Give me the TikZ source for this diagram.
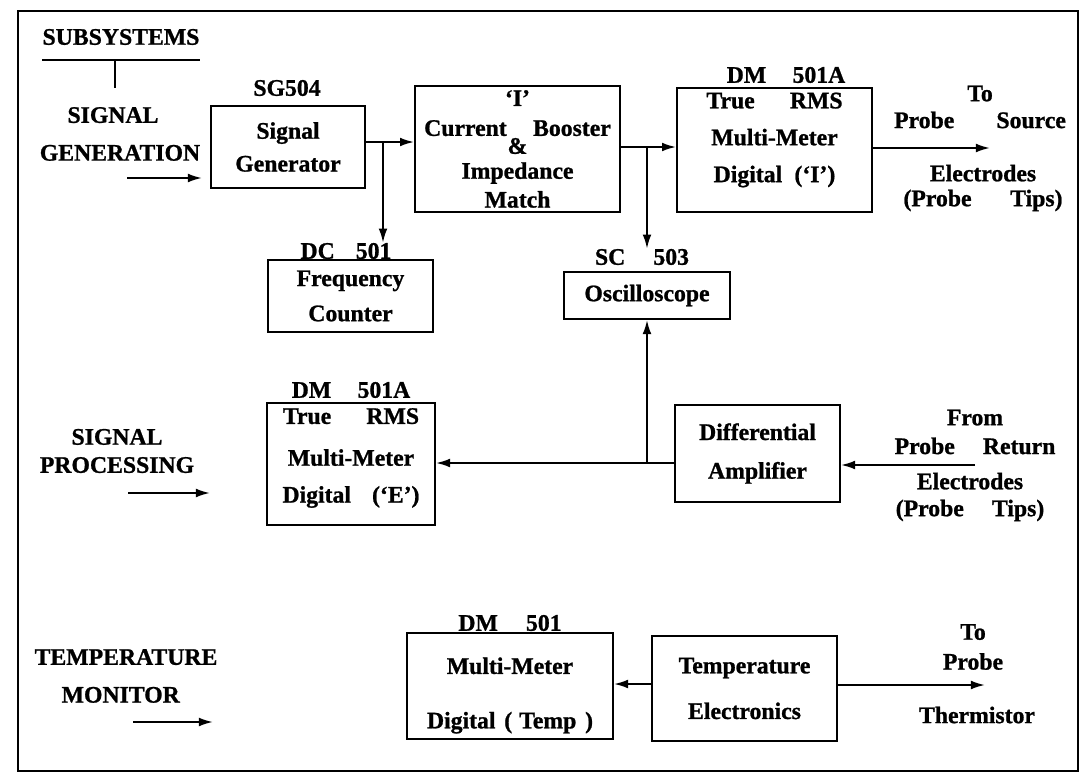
\documentclass[tikz,border=0pt]{standalone}
\usepackage{fontspec}
\setmainfont{Liberation Serif}[BoldFeatures={FakeBold=1}]
\usetikzlibrary{arrows.meta}
\begin{document}
\begin{tikzpicture}[x=0.02cm,y=-0.02cm,
  every node/.style={font=\bfseries\fontsize{13.5}{16}\selectfont,align=center,inner sep=0pt},
  blk/.style 2 args={draw,line width=1.1pt,minimum width=#1,minimum height=#2},
  wire/.style={line width=1.1pt},
  arr/.style={wire,-{Latex[length=8pt,width=5pt]}}]
\useasboundingbox (0,0) rectangle (1086,774);
\draw[line width=1pt] (18,11) rectangle (1078,771);
\node (subs) at (121,37) {SUBSYSTEMS};
\draw[line width=1.6pt] (42,60) -- (200,60);
\draw[wire] (115,60) -- (115,88);
\node (sgen) at (120,134) {SIGNAL\hspace*{8pt}\\[5.5pt]GENERATION};
\node (spro) at (117,451) {SIGNAL\\[0pt]PROCESSING};
\node (tmon) at (126,676) {TEMPERATURE\\[5.5pt]MONITOR\hspace*{6pt}};
\coordinate (g1) at (127,178); \coordinate (g2) at (202,178);
\coordinate (s1) at (128,493); \coordinate (s2) at (210,493);
\coordinate (t1) at (133,722); \coordinate (t2) at (213,722);
\draw[arr] (g1) -- (g2);
\draw[arr] (s1) -- (s2);
\draw[arr] (t1) -- (t2);
\node[blk={3.08cm}{1.64cm}] (sg) at (288,147) {Signal\\[2.7pt]Generator};
\node (sglbl) at (287,88) {SG504};
\node[blk={4.10cm}{2.52cm}] (cb) at (517.5,149) {`I'\\[1pt]Current\hspace{15pt}Booster\\[-5.8pt]\&\\[-1.8pt]Impedance\\[0.4pt]Match};
\node[blk={3.90cm}{2.48cm}] (dmi) at (774.5,150) {};
\node (dmitxt) at (774.5,140) {True\hspace{20pt}RMS\\[5pt]Multi-Meter\\[5pt]Digital\hspace{7pt}(`I')};
\node (dmilbl) at (786,75) {DM\hspace{15pt}501A};
\node[blk={3.30cm}{1.44cm}] (fc) at (350.5,296) {Frequency\\[4pt]Counter};
\node (fclbl) at (346,251) {DC\hspace{12pt}501};
\node[blk={3.32cm}{0.94cm}] (osc) at (647,295.5) {Oscilloscope};
\node (osclbl) at (642,257) {SC\hspace{16pt}503};
\node[blk={3.36cm}{2.44cm}] (dme) at (351,464) {};
\node (dmetxt) at (351,458) {True\hspace{20pt}RMS\\[7.8pt]Multi-Meter\\[5pt]Digital\hspace{12pt}(`E')};
\node (dmelbl) at (351,390) {DM\hspace{15pt}501A};
\node[blk={3.30cm}{1.94cm}] (da) at (757.5,453.5) {Differential\\[6pt]Amplifier};
\node[blk={4.12cm}{2.12cm}] (dmt) at (510,686) {};
\node (dmttxt) at (510,695.5) {Multi-Meter\\[15pt]Digital\hspace{5pt}(\hspace{4pt}Temp\hspace{5pt})};
\node (dmtlbl) at (510,623) {DM\hspace{16pt}501};
\node[blk={3.70cm}{2.10cm}] (te) at (744.5,688.5) {Temperature\\[10pt]Electronics};
\node (src1) at (980,107) {To\\[-0.7pt]Probe\hspace{24pt}Source};
\node (src2) at (983,188) {Electrodes\\[-1.8pt](Probe\hspace{22pt}Tips)};
\node (ret1) at (975,432) {From\\[0.4pt]Probe\hspace{16pt}Return};
\node (ret2) at (970,497) {Electrodes\\[-0.7pt](Probe\hspace{16pt}Tips)};
\node (th1) at (973,647) {To\\[1pt]Probe};
\node (th2) at (977,715) {Thermistor};
\coordinate (j1) at (383,142);
\draw[wire] (sg.east |- j1) -- (j1);
\draw[arr] (j1) -- (cb.west |- j1);
\draw[arr] (j1) -- (j1 |- fclbl.north);
\coordinate (j2) at (647,147);
\draw[wire] (cb.east |- j2) -- (j2);
\draw[arr] (j2) -- (dmi.west |- j2);
\draw[arr] (j2) -- (j2 |- osclbl.north);
\coordinate (p1) at (990,148);
\draw[arr] (dmi.east |- p1) -- (p1);
\coordinate (j3) at (647,463);
\draw[wire] (da.west |- j3) -- (j3);
\draw[arr] (j3) -- (dme.east |- j3);
\draw[arr] (j3) -- (osc.south);
\coordinate (p2) at (975,465);
\draw[arr] (p2) -- (da.east |- p2);
\coordinate (j4) at (630,684);
\draw[arr] (te.west |- j4) -- (dmt.east |- j4);
\coordinate (p3) at (985,685);
\draw[arr] (te.east |- p3) -- (p3);
\end{tikzpicture}
\end{document}
